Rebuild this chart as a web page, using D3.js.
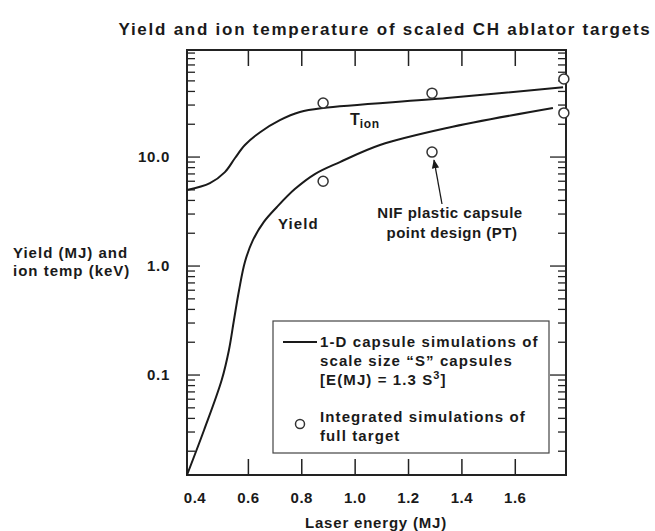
<!DOCTYPE html>
<html>
<head>
<meta charset="utf-8">
<script src="https://cdn.jsdelivr.net/npm/d3@7"></script>
<style>
  body { margin: 0; background: #fff; }
  text { font-family: "Liberation Sans", Arial, Helvetica, sans-serif; font-weight: bold; fill: #1a1a1a; }
</style>
</head>
<body>
<div id="chart"></div>
<script>
// Yield curve (1-D simulations), laser energy MJ vs yield MJ
var yieldE = [0.370, 0.434, 0.500, 0.527, 0.546, 0.565, 0.587, 0.617, 0.658, 0.707, 0.774, 0.849, 0.943, 1.093, 1.344, 1.741];
var yieldV = [0.0121, 0.0313, 0.090, 0.169, 0.32, 0.60, 1.09, 1.73, 2.54, 3.48, 5.08, 6.98, 9.0, 12.9, 18.5, 28.2];

// Ion temperature curve, keV
var tionE = [0.370, 0.456, 0.512, 0.550, 0.587, 0.644, 0.718, 0.793, 0.880, 1.344, 1.779];
var tionV = [4.98, 5.77, 7.28, 9.8, 12.9, 16.9, 21.8, 25.9, 28.2, 34.8, 43.8];

// Integrated simulations of full target (circles)
var integE = [0.88, 1.288, 1.782, 1.782, 1.288, 0.88];
var integV = [31.3, 38.6, 52, 25.4, 11.1, 6.0];

var xTickVals = [0.4, 0.6, 0.8, 1.0, 1.2, 1.4, 1.6];
var xTickLabels = ["0.4", "0.6", "0.8", "1.0", "1.2", "1.4", "1.6"];
var yTickVals = [10, 1, 0.1];
var yTickLabels = ["10.0", "1.0", "0.1"];

var width = 655, height = 531;
// plot box edges (note: "top" is reserved on window, so prefix them)
var pLeft = 187, pRight = 566, pTop = 50, pBottom = 475;

var svg = d3.select("#chart").append("svg")
    .attr("width", width)
    .attr("height", height);

var x = d3.scaleLinear().domain([0.37, 1.79]).range([pLeft, pRight]);
var y = d3.scaleLog().domain([0.0121, 96]).range([pBottom, pTop]);

function label(xp, yp, str, size, spacing, anchor) {
  return svg.append("text")
      .attr("x", xp).attr("y", yp)
      .attr("text-anchor", anchor || "start")
      .style("font-size", size + "px")
      .style("letter-spacing", spacing + "px")
      .text(str);
}

// title
label(385, 35, "Yield and ion temperature of scaled CH ablator targets", 17, 1.75, "middle");

// frame
svg.append("rect")
    .attr("x", pLeft).attr("y", pTop)
    .attr("width", pRight - pLeft).attr("height", pBottom - pTop)
    .attr("fill", "none").attr("stroke", "#222").attr("stroke-width", 2);

// x ticks, top and bottom, pointing inward
var xt = xTickVals.filter(function(d) { return d > 0.5; });
svg.selectAll("line.xb").data(xt).enter().append("line")
    .attr("x1", function(d) { return x(d); }).attr("x2", function(d) { return x(d); })
    .attr("y1", pBottom).attr("y2", pBottom - 16)
    .attr("stroke", "#222").attr("stroke-width", 1.5);
svg.selectAll("line.xt").data(xt).enter().append("line")
    .attr("x1", function(d) { return x(d); }).attr("x2", function(d) { return x(d); })
    .attr("y1", pTop).attr("y2", pTop + 16)
    .attr("stroke", "#222").attr("stroke-width", 1.5);

xTickVals.forEach(function(d, i) {
  label(x(d), 503, xTickLabels[i], 15, 0.5, "middle");
});

label(376, 528, "Laser energy (MJ)", 15, 0.8, "middle");

// log y ticks with minors, both sides
var yTicks = [];
[0.01, 0.1, 1, 10].forEach(function(dec) {
  for (var m = 1; m <= 9; m++) {
    var v = dec * m;
    if (v > 0.0121 && v < 96) yTicks.push({v: v, major: m == 1});
  }
});
svg.selectAll("line.yl").data(yTicks).enter().append("line")
    .attr("x1", pLeft).attr("x2", function(d) { return pLeft + (d.major ? 13 : 8); })
    .attr("y1", function(d) { return y(d.v); }).attr("y2", function(d) { return y(d.v); })
    .attr("stroke", "#222").attr("stroke-width", 1.3);
svg.selectAll("line.yr").data(yTicks).enter().append("line")
    .attr("x1", pRight).attr("x2", function(d) { return pRight - (d.major ? 16 : 8); })
    .attr("y1", function(d) { return y(d.v); }).attr("y2", function(d) { return y(d.v); })
    .attr("stroke", "#222").attr("stroke-width", 1.3);

yTickVals.forEach(function(d, i) {
  label(170, y(d) + 5, yTickLabels[i], 15, 0.7, "end");
});

// y axis label, two lines
label(13, 258, "Yield (MJ) and", 15, 1.0);
label(13, 276, "ion temp (keV)", 15, 1.0);

// curves (catmull-rom copes with the near-vertical part of the yield curve)
var line = d3.line()
    .x(function(d) { return x(d[0]); })
    .y(function(d) { return y(d[1]); })
    .curve(d3.curveCatmullRom.alpha(0.5));

svg.append("path")
    .datum(d3.zip(yieldE, yieldV))
    .attr("d", line)
    .attr("fill", "none").attr("stroke", "#1a1a1a").attr("stroke-width", 2);
svg.append("path")
    .datum(d3.zip(tionE, tionV))
    .attr("d", line)
    .attr("fill", "none").attr("stroke", "#1a1a1a").attr("stroke-width", 2);

// circles
svg.selectAll("circle.pt").data(d3.zip(integE, integV)).enter().append("circle")
    .attr("cx", function(d) { return x(d[0]); })
    .attr("cy", function(d) { return y(d[1]); })
    .attr("r", 5)
    .attr("fill", "#fff").attr("stroke", "#333").attr("stroke-width", 1.5);

// curve labels
var tl = svg.append("text").attr("x", 350).attr("y", 125).style("font-size", "16px");
tl.append("tspan").text("T");
tl.append("tspan").attr("dy", 3).style("font-size", "12px").style("letter-spacing", "0.6px").text("ion");

label(278, 229, "Yield", 15, 1.1);

// NIF annotation with arrow
svg.append("defs").append("marker")
    .attr("id", "arr").attr("viewBox", "0 0 10 10")
    .attr("refX", 9).attr("refY", 5)
    .attr("markerWidth", 7).attr("markerHeight", 7)
    .attr("orient", "auto")
  .append("path").attr("d", "M0,1 L10,5 L0,9 Z").attr("fill", "#1a1a1a");

svg.append("line")
    .attr("x1", 442).attr("y1", 204)
    .attr("x2", x(1.288) + 2).attr("y2", y(11.1) + 8)
    .attr("stroke", "#1a1a1a").attr("stroke-width", 1.3)
    .attr("marker-end", "url(#arr)");

label(450, 218, "NIF plastic capsule", 15, 0.5, "middle");
label(452, 238, "point design (PT)", 15, 0.5, "middle");

// legend
svg.append("rect")
    .attr("x", 273).attr("y", 321).attr("width", 276).attr("height", 132)
    .attr("fill", "#fff").attr("stroke", "#444").attr("stroke-width", 1.2);
svg.append("line")
    .attr("x1", 283).attr("x2", 317).attr("y1", 342).attr("y2", 342)
    .attr("stroke", "#1a1a1a").attr("stroke-width", 2);
svg.append("circle")
    .attr("cx", 300).attr("cy", 424).attr("r", 4.5)
    .attr("fill", "#fff").attr("stroke", "#333").attr("stroke-width", 1.5);

var legLines = [
  {y: 347, t: "1-D capsule simulations of"},
  {y: 366, t: "scale size \u201cS\u201d capsules"},
  {y: 385, t: "[E(MJ) = 1.3 S", sup: "3", tail: "]"},
  {y: 422, t: "Integrated simulations of"},
  {y: 441, t: "full target"}
];
legLines.forEach(function(d) {
  var t = label(320, d.y, "", 15, 1.1);
  t.append("tspan").text(d.t);
  if (d.sup) {
    t.append("tspan").attr("dy", -6).style("font-size", "11px").text(d.sup);
    t.append("tspan").attr("dy", 6).text(d.tail);
  }
});
</script>
</body>
</html>
